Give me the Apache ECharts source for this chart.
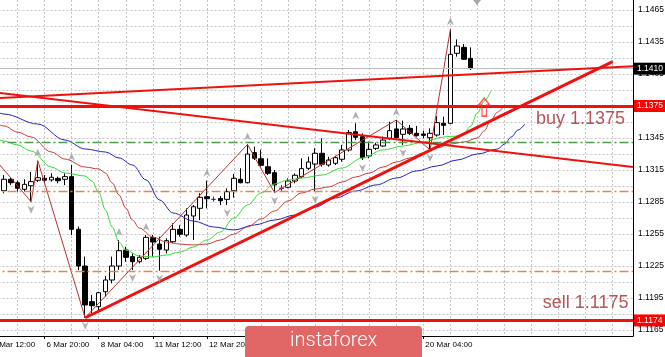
<!DOCTYPE html>
<html><head><meta charset="utf-8">
<script src="https://cdn.jsdelivr.net/npm/echarts@6/dist/echarts.min.js"></script>
<style>html,body{margin:0;padding:0;background:#fff;overflow:hidden}#c{width:665px;height:357px}</style>
</head><body><div id="c"></div>
<script>
// ---- time axis (H4 bars) ----
const categories = [
 '5 Mar 12:00','5 Mar 16:00','5 Mar 20:00',
 '6 Mar 00:00','6 Mar 04:00','6 Mar 08:00','6 Mar 12:00','6 Mar 16:00','6 Mar 20:00',
 '7 Mar 00:00','7 Mar 04:00','7 Mar 08:00','7 Mar 12:00','7 Mar 16:00','7 Mar 20:00',
 '8 Mar 00:00','8 Mar 04:00','8 Mar 08:00','8 Mar 12:00','8 Mar 16:00','8 Mar 20:00',
 '11 Mar 00:00','11 Mar 04:00','11 Mar 08:00','11 Mar 12:00','11 Mar 16:00','11 Mar 20:00',
 '12 Mar 00:00','12 Mar 04:00','12 Mar 08:00','12 Mar 12:00','12 Mar 16:00','12 Mar 20:00',
 '13 Mar 00:00','13 Mar 04:00','13 Mar 08:00','13 Mar 12:00','13 Mar 16:00','13 Mar 20:00',
 '14 Mar 00:00','14 Mar 04:00','14 Mar 08:00','14 Mar 12:00','14 Mar 16:00','14 Mar 20:00',
 '15 Mar 00:00','15 Mar 04:00','15 Mar 08:00','15 Mar 12:00','15 Mar 16:00','15 Mar 20:00',
 '18 Mar 00:00','18 Mar 04:00','18 Mar 08:00','18 Mar 12:00','18 Mar 16:00','18 Mar 20:00',
 '19 Mar 00:00','19 Mar 04:00','19 Mar 08:00','19 Mar 12:00','19 Mar 16:00','19 Mar 20:00',
 '20 Mar 00:00','20 Mar 04:00','20 Mar 08:00','20 Mar 12:00','20 Mar 16:00','20 Mar 20:00',
 '21 Mar 00:00','21 Mar 04:00','21 Mar 08:00','21 Mar 12:00','21 Mar 16:00','21 Mar 20:00',
 '22 Mar 00:00','22 Mar 04:00','22 Mar 08:00','22 Mar 12:00','22 Mar 16:00','22 Mar 20:00',
 '25 Mar 00:00','25 Mar 04:00','25 Mar 08:00','25 Mar 12:00','25 Mar 16:00','25 Mar 20:00',
 '26 Mar 00:00','26 Mar 04:00','26 Mar 08:00','26 Mar 12:00','26 Mar 16:00','26 Mar 20:00',
 '27 Mar 00:00','27 Mar 04:00','27 Mar 08:00'
];
const firstBarTime = '5 Mar 20:00';

// ---- price axis ----
const yLabelValues = [1.1165,1.1195,1.1225,1.1255,1.1285,1.1315,1.1345,1.1375,1.1405,1.1435,1.1465];
const yGridValues = [1.1165,1.1180,1.1195,1.1210,1.1225,1.1240,1.1255,1.1270,1.1285,1.1300,1.1315,1.1330,1.1345,1.1360,1.1375,1.1390,1.1405,1.1420,1.1435,1.1450,1.1465];
const yMin = 1.11594, yMax = 1.14744;

// ---- candles (bar 0 = firstBarTime) ----
const open  = [1.12956,1.13063,1.13031,1.12969,1.13003,1.13054,1.13072,1.13057,1.13072,1.13063,
               1.13088,1.12594,1.12250,1.11916,1.11869,1.12009,1.12119,1.12250,1.12400,1.12338,
               1.12291,1.12322,1.12516,1.12456,1.12400,1.12478,1.12594,1.12541,1.12719,1.12791,
               1.12900,1.12875,1.12884,1.12875,1.12956,1.13063,1.13031,1.13313,1.13256,1.13181,
               1.13125,1.12979,1.12988,1.13047,1.13088,1.13166,1.13206,1.13307,1.13197,1.13213,
               1.13251,1.13338,1.13509,1.13463,1.13282,1.13353,1.13375,1.13447,1.13535,1.13485,
               1.13541,1.13494,1.13488,1.13453,1.13478,1.13588,1.13588,1.14244,1.14300,1.14197];
const close = [1.13063,1.13031,1.12979,1.13016,1.13041,1.13078,1.13054,1.13082,1.13050,1.13088,
               1.12594,1.12250,1.11885,1.11878,1.12000,1.12119,1.12250,1.12394,1.12332,1.12291,
               1.12332,1.12519,1.12475,1.12407,1.12488,1.12594,1.12547,1.12728,1.12806,1.12894,
               1.12881,1.12875,1.12862,1.12947,1.13072,1.13031,1.13300,1.13260,1.13194,1.13119,
               1.13010,1.12979,1.13047,1.13101,1.13163,1.13225,1.13307,1.13204,1.13244,1.13266,
               1.13338,1.13502,1.13457,1.13266,1.13344,1.13385,1.13431,1.13519,1.13453,1.13535,
               1.13494,1.13472,1.13475,1.13494,1.13594,1.13569,1.14235,1.14313,1.14188,1.14100];
const high  = [1.13103,1.13082,1.13050,1.13063,1.13132,1.13237,1.13103,1.13119,1.13088,1.13119,
               1.13197,1.12619,1.12338,1.11978,1.12009,1.12157,1.12338,1.12494,1.12431,1.12369,
               1.12353,1.12541,1.12541,1.12525,1.12510,1.12650,1.12634,1.12791,1.12822,1.12932,
               1.13050,1.12900,1.12906,1.12979,1.13113,1.13166,1.13390,1.13370,1.13340,1.13260,
               1.13150,1.13010,1.13072,1.13119,1.13260,1.13275,1.13354,1.13447,1.13275,1.13282,
               1.13385,1.13525,1.13588,1.13494,1.13416,1.13406,1.13463,1.13603,1.13619,1.13613,
               1.13572,1.13563,1.13519,1.13541,1.13656,1.13650,1.14469,1.14375,1.14331,1.14300];
const low   = [1.12932,1.13009,1.12947,1.12947,1.12853,1.13038,1.13028,1.13041,1.13025,1.13009,
               1.12541,1.12213,1.11765,1.11806,1.11822,1.11963,1.12088,1.12213,1.12291,1.12213,
               1.12275,1.12306,1.12338,1.12206,1.12369,1.12463,1.12525,1.12525,1.12494,1.12681,
               1.12791,1.12853,1.12822,1.12822,1.12891,1.13025,1.13025,1.13244,1.13181,1.13103,
               1.12938,1.12947,1.12979,1.13026,1.13072,1.13150,1.12947,1.13181,1.13181,1.13197,
               1.13228,1.13322,1.13431,1.13244,1.13260,1.13338,1.13369,1.13431,1.13447,1.13385,
               1.13478,1.13463,1.13447,1.13338,1.13463,1.13478,1.13581,1.14213,1.14181,1.14088];

// ---- Alligator lines (bar numbers relative to first bar) ----
const jawBars   = [-1,0,5,9,12,15,17,19,21,23,25,28,31,34,37,40,43,46,49,52,55,58,61,64,67,70,73,74,75,76,77];
const jawValues = [1.13694,1.13675,1.13581,1.13431,1.13347,1.13319,1.13263,1.13197,1.13057,1.12869,1.12747,
                   1.12672,1.12616,1.12588,1.12635,1.12681,1.12728,1.12803,1.12888,1.12953,1.13010,1.13075,
                   1.13141,1.13188,1.13244,1.13300,1.13347,1.13394,1.13460,1.13525,1.13581];
const teethBars   = [-1,0,2,4,7,9,12,14,15,16,17,18,19,20,22,24,26,28,30,32,34,36,38,40,42,44,46,48,50,52,54,56,58,60,62,64,66,68,70,71,72,73,74];
const teethValues = [1.13581,1.13563,1.13506,1.13460,1.13319,1.13253,1.13178,1.13160,1.13122,1.13028,1.12916,
                     1.12794,1.12681,1.12606,1.12522,1.12475,1.12456,1.12447,1.12456,1.12494,1.12550,1.12616,
                     1.12691,1.12766,1.12860,1.12935,1.12972,1.12991,1.13038,1.13085,1.13122,1.13178,1.13225,
                     1.13263,1.13310,1.13357,1.13394,1.13413,1.13450,1.13516,1.13619,1.13694,1.13760];
const lipsBars   = [-1,0,2,4,7,9,12,13,14,15,16,17,18,20,22,24,26,28,30,32,34,36,38,40,42,44,47,50,53,56,59,62,65,67,68,69,70,71,72];
const lipsValues = [1.13441,1.13422,1.13385,1.13328,1.13178,1.13122,1.13094,1.13047,1.12944,1.12775,1.12616,
                    1.12475,1.12400,1.12344,1.12335,1.12353,1.12381,1.12428,1.12494,1.12569,1.12700,1.12822,
                    1.12935,1.13019,1.13057,1.13075,1.13103,1.13169,1.13263,1.13338,1.13375,1.13413,1.13460,
                    1.13469,1.13488,1.13563,1.13685,1.13797,1.13891];

// ---- ZigZag swing points ----
const zigzagBars   = [-2,4,5,12,36,40,58,63,66];
const zigzagValues = [1.13300,1.12853,1.13237,1.11765,1.13390,1.12938,1.13619,1.13338,1.14469];

// ---- Fractals (bar numbers) ----
const fractalUpBars   = [5,10,17,21,30,36,52,58,66];
const fractalDownBars = [4,12,19,23,33,40,46,53,59,63];

// ---- drawn objects ----
const trendA = {bars:[-2,93], values:[1.13821,1.14123]};
const trendB = {bars:[-2,93], values:[1.13882,1.13178]};
const trendC = {bars:[12,90], values:[1.11765,1.14166]};
const buyLevel = 1.1375, sellLevel = 1.1174, bidLevel = 1.1410;
const greenLevel = 1.1341;
const orangeLevels = [1.1295, 1.1220];
const buyArrow = {bar:71, value:1.1374};
const notes = [
  {bar:78, value:1.13630, text:'buy 1.1375'},
  {bar:79, value:1.11903, text:'sell 1.1175'}
];

// ---------------------------------------------------------------
const off = categories.indexOf(firstBarTime);
const lastIdx = off + open.length - 1;
const FONT = 'Liberation Sans, Arial, sans-serif';
const pair = (bars, vals) => bars.map((b, i) => [b + off, vals[i]]);

const candleData = open.map((o, i) => [i + off, o, close[i], low[i], high[i]]);
const labelShown = (i) => i % 8 === 0 && i <= lastIdx;

const chart = echarts.init(document.getElementById('c'), null, {renderer: 'canvas'});

const hLine = (v, color, width, type, label) => ({
  yAxis: v,
  lineStyle: {color, width, type, opacity: 1},
  label: label ? {show: true, position: 'end', distance: 1, formatter: label.text,
      color: '#fff', backgroundColor: label.bg, padding: [1, 3, 1, 3], fontSize: 8.5, fontFamily: FONT, lineHeight: 10} : {show: false}
});

const option = {
  animation: false,
  backgroundColor: '#fff',
  grid: {left: -9.5, right: 32, top: 0, bottom: 21, containLabel: false, outerBoundsMode: 'none'},
  xAxis: {
    type: 'category', data: categories, boundaryGap: false,
    axisLine: {show: true, lineStyle: {color: '#000', width: 1}},
    axisTick: {show: true, interval: labelShown, length: 3, lineStyle: {color: '#000'}},
    axisLabel: {interval: labelShown, align: 'left', margin: 5, padding: [0, 0, 0, 2],
      fontSize: 8, fontFamily: FONT, color: '#000'},
    splitLine: {show: true, interval: (i) => i % 4 === 0, lineStyle: {color: '#c4c4c4', type: [2, 2], width: 1}}
  },
  yAxis: {
    type: 'value', position: 'right', min: yMin, max: yMax, scale: true,
    axisLine: {show: true, lineStyle: {color: '#000', width: 1}},
    axisTick: {show: false, customValues: yGridValues},
    axisLabel: {customValues: yLabelValues, formatter: (v) => v.toFixed(4), margin: 5,
      fontSize: 8.5, fontFamily: FONT, color: '#000'},
    splitLine: {show: true, customValues: yGridValues, lineStyle: {color: '#c4c4c4', type: [2, 2], width: 1}}
  },
  series: [
    {
      type: 'candlestick', z: 3, barWidth: 5,
      data: candleData, encode: {x: 0, y: [1, 2, 3, 4]},
      itemStyle: {color: '#fff', color0: '#000', borderColor: '#000', borderColor0: '#000',
        borderColorDoji: '#8b008b', borderWidth: 1}
    },
    {type: 'line', z: 4, data: pair(jawBars, jawValues), symbol: 'none', smooth: 0.35, smoothMonotone: 'x',
      lineStyle: {color: '#2323c8', width: 1}},
    {type: 'line', z: 4, data: pair(teethBars, teethValues), symbol: 'none', smooth: 0.35, smoothMonotone: 'x',
      lineStyle: {color: '#cc3b3b', width: 1}},
    {type: 'line', z: 4, data: pair(lipsBars, lipsValues), symbol: 'none', smooth: 0.35, smoothMonotone: 'x',
      lineStyle: {color: '#33dd33', width: 1}},
    {type: 'line', z: 4, data: pair(zigzagBars, zigzagValues), symbol: 'none',
      lineStyle: {color: '#b83030', width: 1}},
    {type: 'line', z: 6, data: pair(trendA.bars, trendA.values), symbol: 'none',
      lineStyle: {color: '#f01010', width: 2},
      markLine: {
        silent: true, symbol: ['none', 'none'], animation: false, precision: 5,
        data: [
          hLine(greenLevel, '#4f9a4f', 1.3, [9, 3, 2, 3]),
          hLine(orangeLevels[0], '#f0804c', 1.3, [9, 3, 2, 3]),
          hLine(orangeLevels[1], '#f0804c', 1.3, [9, 3, 2, 3]),
          hLine(bidLevel, '#bdbdbd', 1, 'solid', {text: bidLevel.toFixed(4), bg: '#000'}),
          hLine(buyLevel, '#f01010', 3, 'solid', {text: buyLevel.toFixed(4), bg: '#ff0000'}),
          hLine(sellLevel, '#f01010', 3, 'solid', {text: sellLevel.toFixed(4), bg: '#ff0000'})
        ]
      }},
    {type: 'line', z: 6, data: pair(trendB.bars, trendB.values), symbol: 'none',
      lineStyle: {color: '#f01010', width: 2}},
    {type: 'line', z: 6, data: pair(trendC.bars, trendC.values), symbol: 'none',
      lineStyle: {color: '#f01010', width: 3}},
    {type: 'scatter', z: 7, symbol: 'path://M5,0 L10,10 L5,7 L0,10 Z', symbolSize: [7, 8], symbolOffset: [0, -8],
      itemStyle: {color: '#9c9c9c'},
      data: fractalUpBars.map(b => [b + off, high[b]])},
    {type: 'scatter', z: 7, symbol: 'path://M5,0 L10,10 L5,7 L0,10 Z', symbolSize: [7, 8], symbolRotate: 180, symbolOffset: [0, 8],
      itemStyle: {color: '#9c9c9c'},
      data: fractalDownBars.map(b => [b + off, low[b]])},
    {type: 'scatter', z: 7, symbol: 'path://M5,0 L10,7 L7,7 L7,18 L3,18 L3,7 L0,7 Z', symbolSize: [11, 18],
      itemStyle: {color: 'rgba(255,255,255,0)', borderColor: '#ff2a2a', borderWidth: 1.5},
      data: [[buyArrow.bar + off, buyArrow.value]]},
    {type: 'scatter', z: 8, symbol: 'circle', symbolSize: 1, itemStyle: {color: 'rgba(0,0,0,0)'},
      label: {show: true, position: 'right', distance: 4, formatter: (p) => p.name,
        fontSize: 18, fontFamily: FONT, color: '#a52a2e'},
      data: notes.map(n => ({name: n.text, value: [n.bar + off, n.value]}))}
  ],
  graphic: [
    {type: 'polygon', z: 50, shape: {points: [[473, 0], [481, 0], [477, 5]]}, style: {fill: '#a8a8a8'}},
    {type: 'rect', z: 100, shape: {x: 245, y: 326, width: 177, height: 40, r: 4}, style: {fill: '#e16666'}},
    {type: 'text', z: 101, x: 290, y: 341, style: {text: 'instaforex', fill: '#fff', font: '300 20px Roboto, sans-serif', textVerticalAlign: 'middle', verticalAlign: 'middle'}}
  ]
};
chart.setOption(option);
</script>
</body></html>
